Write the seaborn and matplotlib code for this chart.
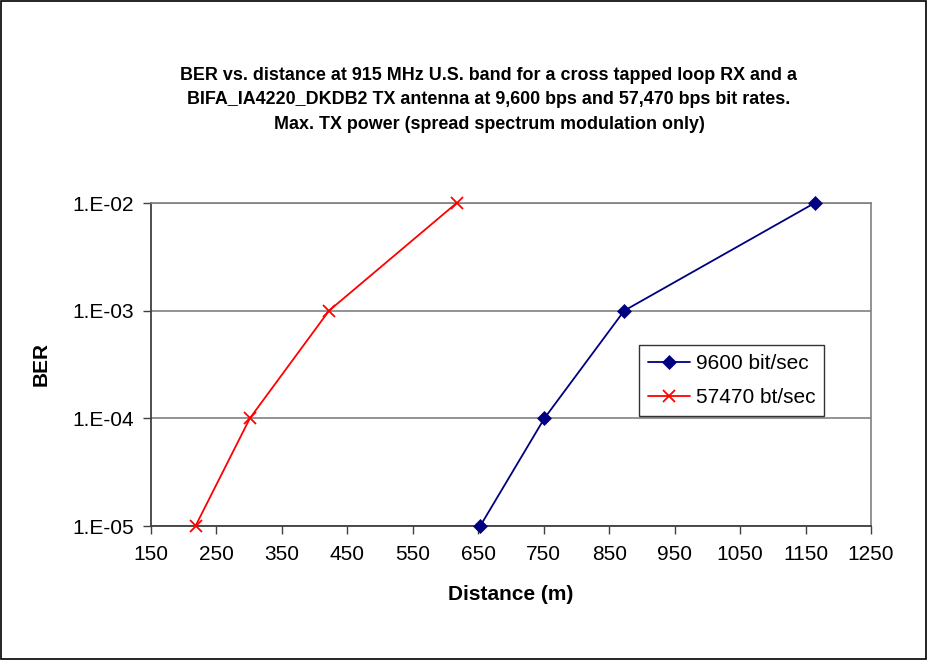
import matplotlib
matplotlib.use("Agg")
import matplotlib.pyplot as plt
from matplotlib.patches import Rectangle
import seaborn as sns
import pandas as pd

# Data
dist_9600 = [653, 751, 873, 1164]
ber_9600 = [1e-5, 1e-4, 1e-3, 1e-2]
dist_57470 = [218, 301, 422, 617]
ber_57470 = [1e-5, 1e-4, 1e-3, 1e-2]
series_names = ["9600 bit/sec", "57470 bt/sec"]
x_ticks = [150, 250, 350, 450, 550, 650, 750, 850, 950, 1050, 1150, 1250]
y_ticks = [1e-5, 1e-4, 1e-3, 1e-2]
y_tick_labels = ["1.E-05", "1.E-04", "1.E-03", "1.E-02"]
title_lines = [
    "BER vs. distance at 915 MHz U.S. band for a cross tapped loop RX and a",
    "BIFA_IA4220_DKDB2 TX antenna at 9,600 bps and 57,470 bps bit rates.",
    "Max. TX power (spread spectrum modulation only)",
]

df1 = pd.DataFrame({"Distance": dist_9600, "BER": ber_9600})
df2 = pd.DataFrame({"Distance": dist_57470, "BER": ber_57470})

sns.set_theme(style="white")
plt.rcParams["font.family"] = ["Liberation Sans", "DejaVu Sans"]
plt.rcParams["text.color"] = "black"
plt.rcParams["axes.labelcolor"] = "black"

fig = plt.figure(figsize=(9.28, 6.6), dpi=100)
ax = fig.add_axes([151 / 928, 1 - 526 / 660, 720 / 928, 323 / 660])

sns.lineplot(data=df1, x="Distance", y="BER", color="#000080", marker="D",
             ax=ax, linewidth=1.3, markersize=7, markeredgewidth=0.5,
             markeredgecolor="#000080", sort=False, label=series_names[0],
             clip_on=False, zorder=5)
sns.lineplot(data=df2, x="Distance", y="BER", color="#FF0000", marker="x",
             ax=ax, linewidth=1.3, markersize=8, markeredgewidth=1.3,
             markeredgecolor="#FF0000", sort=False, label=series_names[1],
             clip_on=False, zorder=5)

ax.set_yscale("log")
ax.set_xlim(150, 1250)
ax.set_ylim(1e-5, 1e-2)
ax.set_xticks(x_ticks)
ax.set_xticklabels([str(t) for t in x_ticks], fontsize=15)
ax.set_yticks(y_ticks)
ax.set_yticklabels(y_tick_labels, fontsize=15)
ax.yaxis.set_minor_locator(matplotlib.ticker.NullLocator())
ax.tick_params(axis="both", direction="out", length=6, width=1, color="#404040",
               pad=6, bottom=True, left=True, labelcolor="black")
ax.tick_params(axis="x", pad=8)
ax.grid(axis="y", color="#808080", linewidth=1.2)
ax.grid(axis="x", visible=False)
for s in ["top", "right"]:
    ax.spines[s].set_color("#808080")
    ax.spines[s].set_linewidth(1.2)
for s in ["left", "bottom"]:
    ax.spines[s].set_color("#404040")
    ax.spines[s].set_linewidth(1.3)

ax.set_xlabel("Distance (m)", fontsize=15, fontweight="bold", labelpad=15, color="black")
ax.set_ylabel("BER", fontsize=15, fontweight="bold", labelpad=16, color="black")

handles, labels = ax.get_legend_handles_labels()
leg = ax.legend(handles, labels, loc="upper left", bbox_to_anchor=(0.678, 0.56),
                fontsize=15, frameon=True, fancybox=False, edgecolor="black",
                borderpad=0.42, handlelength=2.0, handletextpad=0.3, labelspacing=0.72,
                borderaxespad=0)
leg.get_frame().set_linewidth(1.0)
for t in leg.get_texts():
    t.set_color("black")

fig.text(489 / 928, 1 - 100 / 660, "\n".join(title_lines), ha="center", va="center",
         fontsize=12.9, fontweight="bold", linespacing=1.6, color="black",
         family=["Liberation Sans", "DejaVu Sans"])

fig.patches.append(Rectangle((0.001, 0.001), 0.997, 0.997, transform=fig.transFigure,
                             fill=False, edgecolor="black", linewidth=1.2))

fig.savefig("out.png", dpi=100)
